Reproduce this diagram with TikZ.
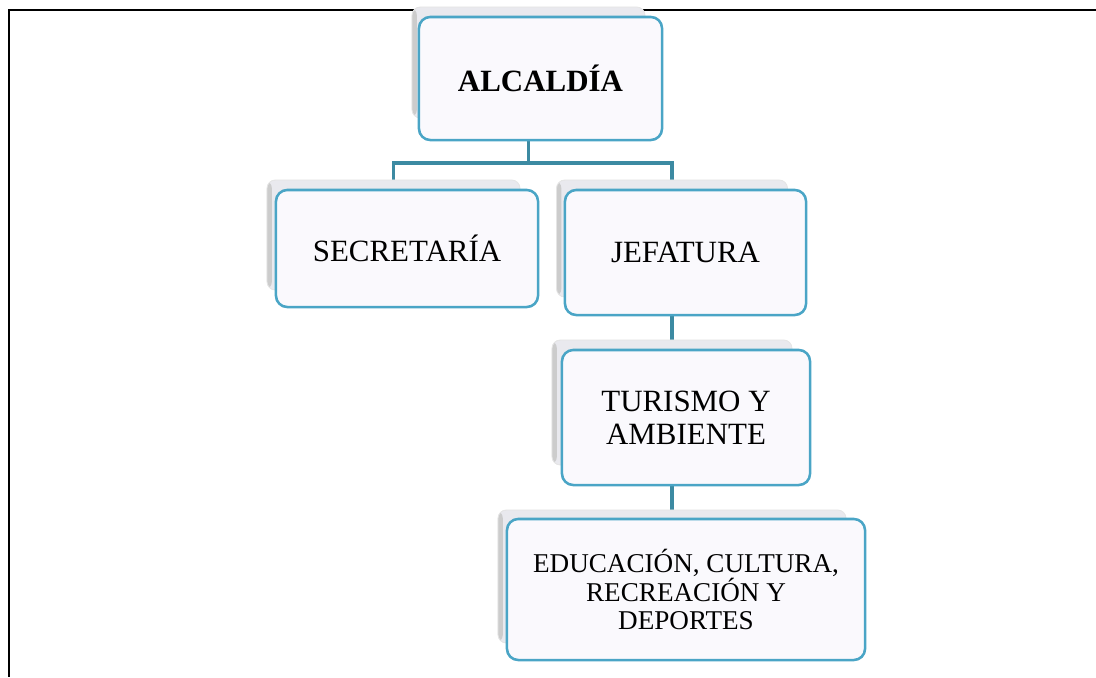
\documentclass[tikz,border=0pt]{standalone}
\usepackage{fontspec}
\setmainfont{Liberation Serif}
\usetikzlibrary{backgrounds}

\definecolor{bordeAzul}{RGB}{74,165,198}
\definecolor{lineaAzul}{RGB}{60,138,162}
\definecolor{fondoCaja}{RGB}{250,249,253}
\definecolor{sombraCaja}{RGB}{233,233,238}

\begin{document}
\begin{tikzpicture}[x=0.025cm,y=-0.025cm]
    \tikzset{Caja/.style = {shape=rectangle,draw=bordeAzul,line width=1.8pt,rounded corners=8pt,fill=fondoCaja,align=center,inner sep=0pt,font=\fontsize{22}{23.5}\selectfont}}
    \tikzset{Sombra/.style = {shape=rectangle,rounded corners=6pt,fill=sombraCaja,draw=black!10,line width=0.6pt,inner sep=0pt,
        path picture={\fill[black!20] (path picture bounding box.north west) rectangle ([xshift=3.5pt]path picture bounding box.south west);}}}
    \tikzset{conector/.style = {draw=lineaAzul,line width=2.8pt}}

    \useasboundingbox (0,0) rectangle (1096,677);

    %Sombras de las cajas
    \node[Sombra,minimum width=5.825cm,minimum height=2.775cm] (alcaldiaS) at (528.5,62.5) {};
    \node[Sombra,minimum width=6.325cm,minimum height=2.75cm] (secretariaS) at (393.5,235) {};
    \node[Sombra,minimum width=5.775cm,minimum height=2.925cm] (jefaturaS) at (672,238.5) {};
    \node[Sombra,minimum width=6.0cm,minimum height=3.125cm] (turismoS) at (672,402.5) {};
    \node[Sombra,minimum width=8.7cm,minimum height=3.325cm] (educacionS) at (672,576.5) {};

    %Cajas
    \node[Caja,minimum width=6.075cm,minimum height=3.075cm,font=\bfseries\fontsize{22}{23.5}\selectfont] (alcaldia) at (540.5,78.5) {ALCALDÍA};
    \node[Caja,minimum width=6.55cm,minimum height=2.925cm] (secretaria) at (407,248.5) {SECRETARÍA};
    \node[Caja,minimum width=6.025cm,minimum height=3.125cm] (jefatura) at (685.5,252.5) {JEFATURA};
    \node[Caja,minimum width=6.2cm,minimum height=3.375cm] (turismo) at (686,417.5) {TURISMO Y\\AMBIENTE};
    \node[Caja,minimum width=8.95cm,minimum height=3.525cm,font=\fontsize{19.3}{20.6}\selectfont] (educacion) at (686,589.5) {EDUCACIÓN, CULTURA,\\RECREACIÓN Y\\DEPORTES};

    \begin{scope}[on background layer]
        %Marco
        \draw[black,line width=1.4pt] (1096,10) -- (9,10) -- (9,677);

        %Conectores
        \coordinate (bus) at (528.5,163);
        \draw[conector] (alcaldiaS.center) -- (bus);
        \draw[conector] (secretariaS.center) |- (bus) -| (jefaturaS.center);
        \draw[conector] (jefaturaS.center) -- (turismoS.center);
        \draw[conector] (turismoS.center) -- (educacionS.center);
    \end{scope}
\end{tikzpicture}
\end{document}
